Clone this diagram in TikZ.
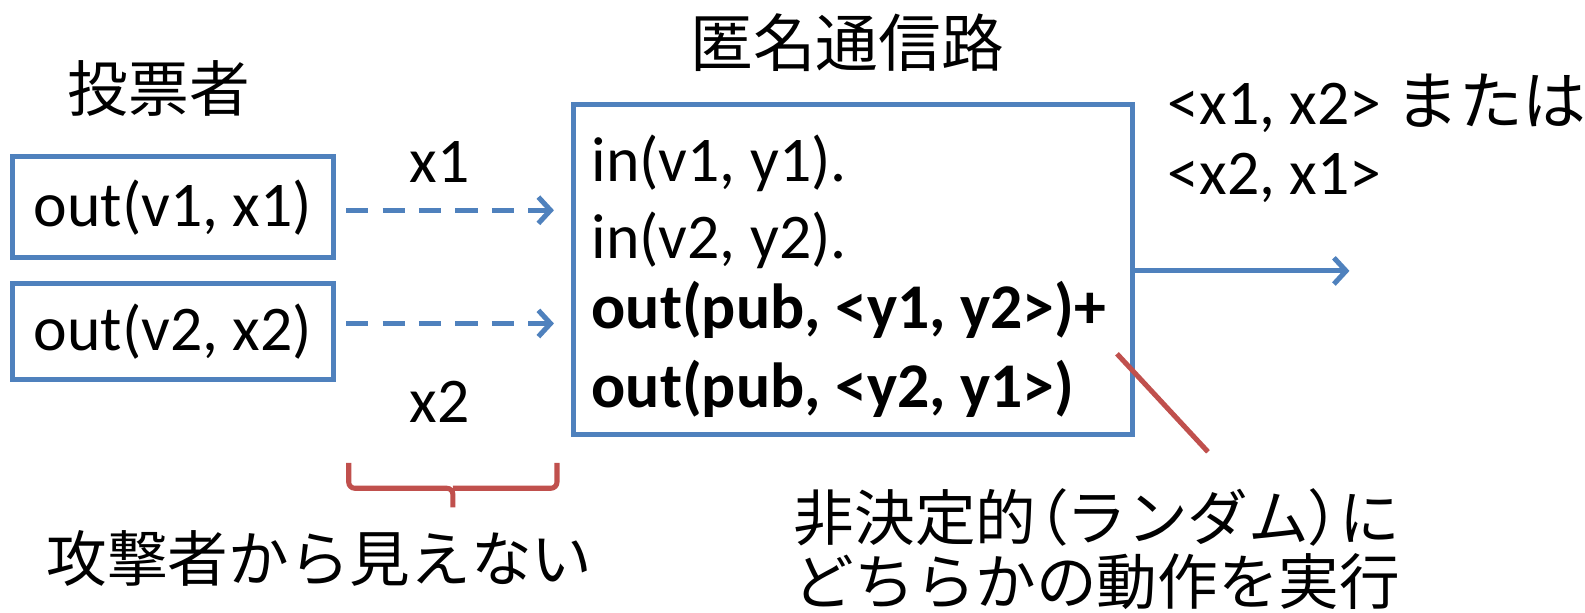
\documentclass[tikz,border=0pt]{standalone}
\usepackage{fontspec}
\setmainfont{Carlito}
\newfontfamily\jp{Noto Sans CJK JP}
\usetikzlibrary{arrows.meta}
\definecolor{pblue}{HTML}{4F81BD}
\definecolor{pred}{HTML}{C0504D}
\tikzset{
  lat/.style={font=\fontsize{63}{75}\selectfont, inner sep=0pt},
  jpl/.style={font=\fontsize{60}{72}\selectfont\jp, inner sep=0pt},
  vbox/.style={draw=pblue, line width=5pt, minimum width=318pt, inner sep=0pt, font=\fontsize{63}{75}\selectfont},
  dasharrow/.style={draw=pblue, line width=5pt, dash pattern=on 22pt off 14pt, -{Straight Barb[length=12pt,width=26pt,line width=5pt]}},
  solidarrow/.style={draw=pblue, line width=5pt, -{Straight Barb[length=12pt,width=26pt,line width=5pt]}},
  redline/.style={draw=pred, line width=5pt},
}
\begin{document}
\begin{tikzpicture}[x=1pt,y=-1pt]
\useasboundingbox (0,0) rectangle (1568,606);
% voters
\node[jpl] (voter) at (157,88) {投票者};
\node[vbox, minimum height=100pt] (b1) at (171,205) {out(v1, x1)};
\node[vbox, minimum height=95pt] (b2) at (171,328) {out(v2, x2)};
% channel
\node[draw=pblue, line width=5pt, minimum width=553pt, minimum height=327pt, inner sep=0pt] (chan) at (843.5,266.5) {};
\node[font=\fontsize{62}{74}\selectfont\jp, inner sep=0pt] (title) at (838,42) {匿名通信路};
\node[lat, anchor=west] (l1) at (585,162) {in(v1, y1).};
\node[lat, anchor=west] (l2) at (585,238) {in(v2, y2).};
\node[lat, anchor=west, font=\fontsize{63}{75}\selectfont\bfseries] (l3) at (585,307) {out(pub, <y1, y2>)+};
\node[lat, anchor=west, font=\fontsize{63}{75}\selectfont\bfseries] (l4) at (585,385) {out(pub, <y2, y1>)};
% labels on arrows
\node[lat] (lx1) at (435,160) {x1};
\node[lat] (lx2) at (435,398) {x2};
\coordinate (a1e) at (548,208);
\coordinate (a2e) at (548,320);
\draw[dasharrow] ([xshift=10pt]b1.east |- a1e) -- (a1e);
\draw[dasharrow] ([xshift=10pt]b2.east |- a2e) -- (a2e);
% output
\coordinate (oute) at (1335,268);
\draw[solidarrow] (chan.east |- oute) -- (oute);
\node[lat, anchor=west] (o1) at (1155,102) {<x1, x2> {\jp または}};
\node[lat, anchor=west] (o2) at (1155,176) {<x2, x1>};
% red note line
\coordinate (rs) at (1105,350);
\coordinate (re) at (1195,447);
\draw[redline] (rs) -- (re);
\node[jpl, anchor=west] (n1) at (785,512) {非決定的{\addfontfeatures{RawFeature=+palt}（}ランダム{\addfontfeatures{RawFeature=+palt}）}に};
\node[jpl, anchor=west] (n2) at (785,575) {どちらかの動作を実行};
% brace
\coordinate (bl) at (345,458);
\coordinate (br) at (551,458);
\coordinate (bt) at (448,502);
\draw[redline, rounded corners=6pt] (bl) -- (bl |- 0,483) -- (bt |- 0,483) -- (bt);
\draw[redline, rounded corners=6pt] (br) -- (br |- 0,483) -- (bt |- 0,483);
\node[jpl] (hid) at (316,552) {攻撃者から見えない};
\end{tikzpicture}
\end{document}
